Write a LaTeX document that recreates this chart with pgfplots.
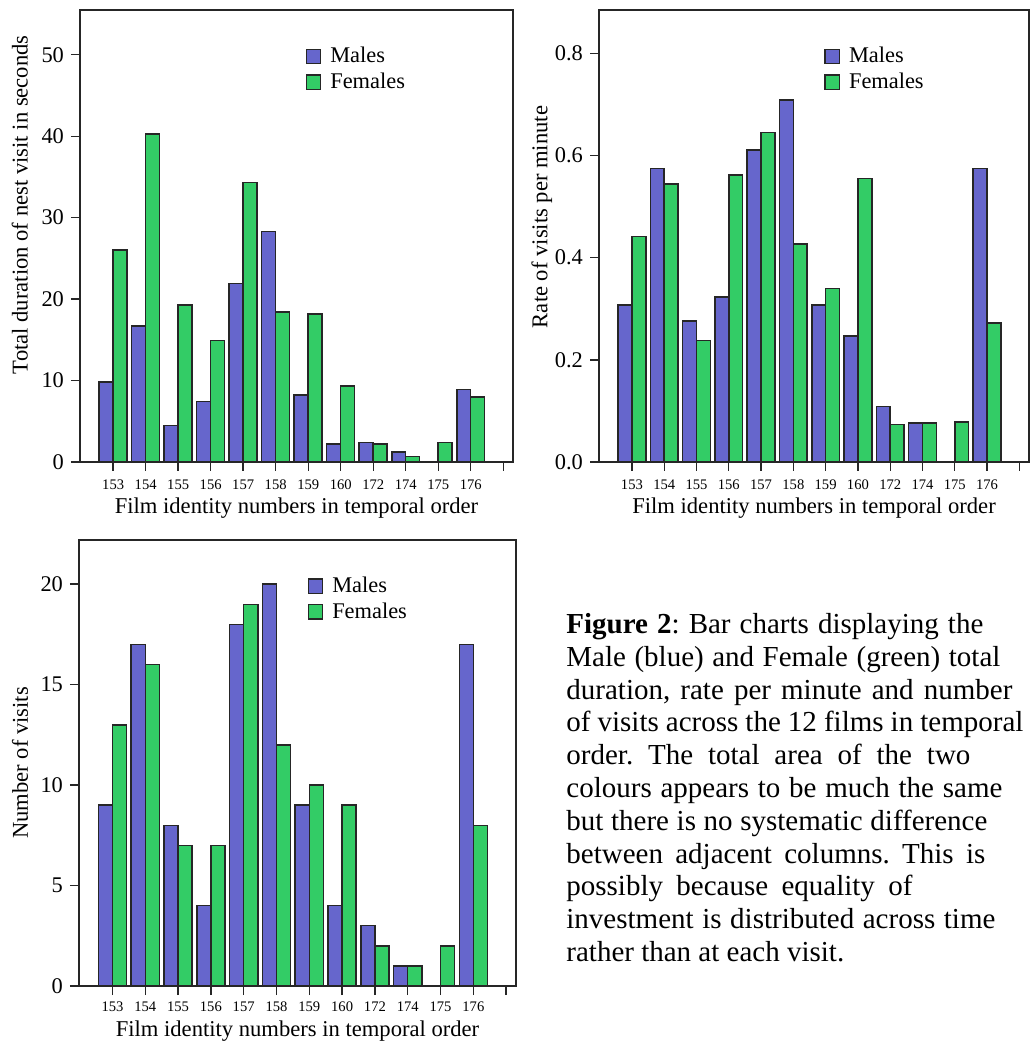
\documentclass[border=0pt]{standalone}
\usepackage{fontspec}
\setmainfont{Liberation Serif}
\usepackage{pgfplots}
\usepackage{pgfplotstable}
\pgfplotsset{compat=1.18}

\definecolor{males}{RGB}{102,102,204}
\definecolor{females}{RGB}{51,204,102}

% films 153 154 155 156 157 158 159 160 172 174 175 176 -> idx 0..11
\pgfplotstableread{
idx male female
0   9.8  26.0
1   16.7 40.3
2   4.5  19.3
3   7.4  14.9
4   21.9 34.3
5   28.3 18.4
6   8.2  18.2
7   2.2  9.3
8   2.4  2.2
9   1.2  0.7
10  0    2.4
11  8.9  8.0
}\durtab

\pgfplotstableread{
idx male female
0   0.307 0.441
1   0.575 0.544
2   0.276 0.238
3   0.323 0.562
4   0.611 0.645
5   0.709 0.427
6   0.307 0.340
7   0.247 0.555
8   0.109 0.073
9   0.076 0.076
10  0     0.078
11  0.575 0.272
}\ratetab

\pgfplotstableread{
idx male female
0   9  13
1   17 16
2   8  7
3   4  7
4   18 19
5   20 12
6   9  10
7   4  9
8   3  2
9   1  1
10  0  2
11  17 8
}\numtab

\pgfplotsset{
  filmbars/.style={
    scale only axis, anchor=south west,
    xmin=-1.02, xmax=12.3, ymin=0,
    xtick={0,...,12},
    xticklabels={153,154,155,156,157,158,159,160,172,174,175,176,{}},
    tick align=outside, tick pos=left, major tick length=4.5pt,
    axis line style={line width=0.8pt, black!85},
    major tick style={line width=0.7pt, black!85},
    /pgf/number format/assume math mode=true,
    xticklabel style={font=\fontsize{7.3}{8}\selectfont, yshift=-1pt},
    yticklabel style={font=\fontsize{11.2}{13}\selectfont},
    label style={font=\fontsize{11.3}{13}\selectfont},
    xlabel={Film identity numbers in temporal order},
    xlabel style={at={(axis description cs:0.5,-0.102)}, anchor=center},
    legend cell align=left,
    legend style={draw=none, fill=none, inner sep=0pt,
      font=\fontsize{11.2}{13}\selectfont, anchor=north west,
      row sep=0.6pt, nodes={inner sep=1.5pt}},
    legend image code/.code={
      \path[draw=none, fill=none] (0pt,0pt) -- (10.5pt,0pt);
      \draw[##1, line width=0.75pt] (0pt,-3.6pt) rectangle (7.2pt,3.6pt);},
  },
  mbar/.style={ybar, bar width=0.43, bar shift=-0.215, fill=males,
    draw=black!85, line width=0.75pt},
  fbar/.style={ybar, bar width=0.43, bar shift=0.215, fill=females,
    draw=black!85, line width=0.75pt},
}

\begin{document}
\begin{tikzpicture}
\useasboundingbox (0,0) rectangle (515pt,521pt);

% total duration
\begin{axis}[filmbars, at={(40pt,290pt)}, width=216.5pt, height=226pt,
  ymax=55.5, ytick={0,10,...,50},
  ylabel={Total duration of nest visit in seconds},
  ylabel style={at={(axis description cs:-0.139,0.569)}, anchor=center},
  legend style={at={(rel axis cs:0.52,0.925)}}]
\addplot[mbar] table[x=idx, y=male] {\durtab};
\addplot[fbar] table[x=idx, y=female] {\durtab};
\legend{Males, Females}
\end{axis}

% rate per minute
\begin{axis}[filmbars, at={(299.5pt,290pt)}, width=215pt, height=226pt,
  ymax=0.885, ytick={0,0.2,0.4,0.6,0.8},
  yticklabel style={/pgf/number format/.cd, fixed, fixed zerofill, precision=1},
  ylabel={Rate of visits per minute},
  ylabel style={at={(axis description cs:-0.133,0.542)}, anchor=center},
  legend style={at={(rel axis cs:0.523,0.925)}}]
\addplot[mbar] table[x=idx, y=male] {\ratetab};
\addplot[fbar] table[x=idx, y=female] {\ratetab};
\legend{Males, Females}
\end{axis}

% number of visits
\begin{axis}[filmbars, at={(39.5pt,28pt)}, width=218.5pt, height=223pt,
  ymax=22.2, ytick={0,5,...,20},
  xticklabel style={yshift=1pt},
  ylabel={Number of visits},
  ylabel style={at={(axis description cs:-0.135,0.5)}, anchor=center},
  xlabel style={at={(axis description cs:0.5,-0.101)}},
  legend style={at={(rel axis cs:0.522,0.925)}}]
\addplot[mbar] table[x=idx, y=male] {\numtab};
\addplot[fbar] table[x=idx, y=female] {\numtab};
\legend{Males, Females}
\end{axis}

\node[anchor=north west, inner sep=0pt, align=left,
  font=\fontsize{14.5}{16.4}\selectfont\frenchspacing] at (283pt,214.5pt) {%
\makebox[208.5pt][s]{\textbf{Figure 2}: Bar charts displaying the}\\
\makebox[217pt][s]{Male (blue) and Female (green) total}\\
\makebox[223pt][s]{duration, rate per minute and number}\\
\makebox[228.5pt][s]{of visits across the 12 films in temporal}\\
\makebox[202pt][s]{order. The total area of the two}\\
\makebox[218pt][s]{colours appears to be much the same}\\
\makebox[210.5pt][s]{but there is no systematic difference}\\
\makebox[209.5pt][s]{between adjacent columns. This is}\\
\makebox[173pt][s]{possibly because equality of}\\
\makebox[214.5pt][s]{investment is distributed across time}\\
rather than at each visit.};
\end{tikzpicture}
\end{document}
